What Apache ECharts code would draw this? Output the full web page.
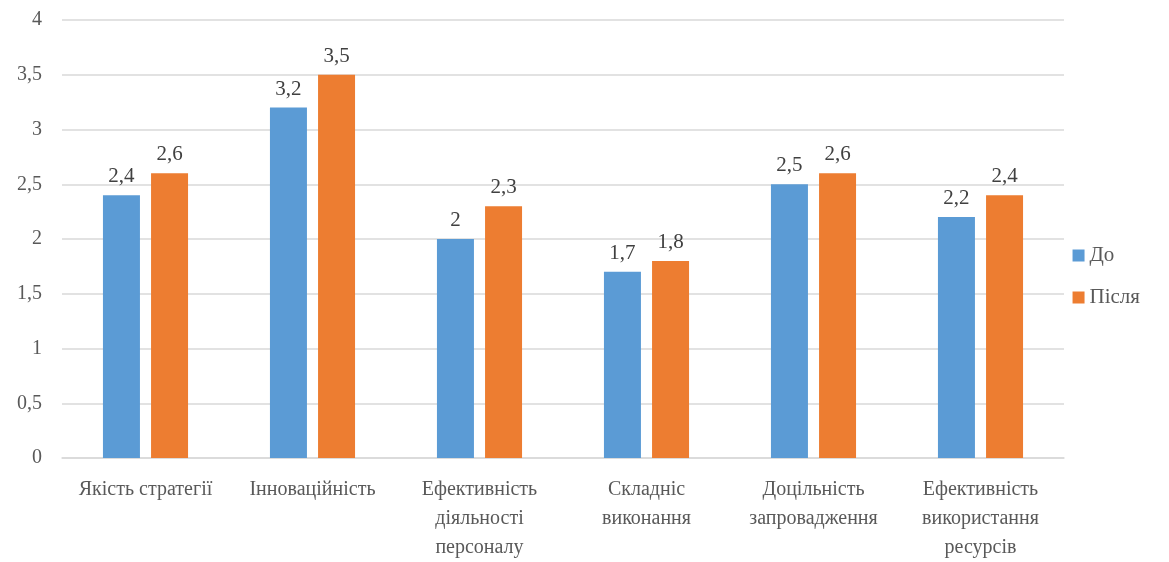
<!DOCTYPE html>
<html><head><meta charset="utf-8">
<script src="https://cdn.jsdelivr.net/npm/echarts@6/dist/echarts.min.js"></script>
<style>html,body{margin:0;padding:0;background:#fff;overflow:hidden}#c{width:1169px;height:562px}</style>
</head><body><div id="c"></div>
<script>
var categories = ['Якість стратегії','Інноваційність','Ефективність\nдіяльності\nперсоналу','Складніс\nвиконання','Доцільність\nзапровадження','Ефективність\nвикористання\nресурсів'];
var seriesNames = ['До','Після'];
var before = [2.4, 3.2, 2.0, 1.7, 2.5, 2.2];
var after = [2.6, 3.5, 2.3, 1.8, 2.6, 2.4];
var colors = ['#5B9BD5','#ED7D31'];
var font = "Times New Roman, DejaVu Serif, serif";
function fmt(v){ return String(v).replace('.', ','); }
var chart = echarts.init(document.getElementById('c'));
var lbl = {show:true, position:'top', distance:8, color:'#404040', fontSize:21, fontFamily:font, formatter:function(p){return fmt(p.value);}};
chart.setOption({
  animation:false,
  textStyle:{fontFamily:font},
  grid:{left:62, right:105, top:20, bottom:94},
  legend:{orient:'vertical', right:24, top:240, itemWidth:12, itemHeight:12, itemGap:21, icon:'rect',
    textStyle:{fontFamily:font, fontSize:21, color:'#595959'}, data:seriesNames},
  xAxis:{type:'category', data:categories,
    axisLine:{lineStyle:{color:'#d9d9d9', width:1.5}}, axisTick:{show:false},
    axisLabel:{interval:0, color:'#595959', fontFamily:font, fontSize:20, lineHeight:29, margin:17}},
  yAxis:{type:'value', min:0, max:4, interval:0.5,
    axisLabel:{color:'#595959', fontFamily:font, fontSize:20, margin:20, formatter:function(v){return fmt(v);}},
    splitLine:{lineStyle:{color:'#d9d9d9', width:1.5}}, axisLine:{show:false}, axisTick:{show:false}},
  series:[
    {name:seriesNames[0], type:'bar', data:before, barWidth:37, barGap:'30%', itemStyle:{color:colors[0]}, label:lbl},
    {name:seriesNames[1], type:'bar', data:after, barWidth:37, barGap:'30%', itemStyle:{color:colors[1]}, label:lbl}
  ]
});
</script></body></html>
